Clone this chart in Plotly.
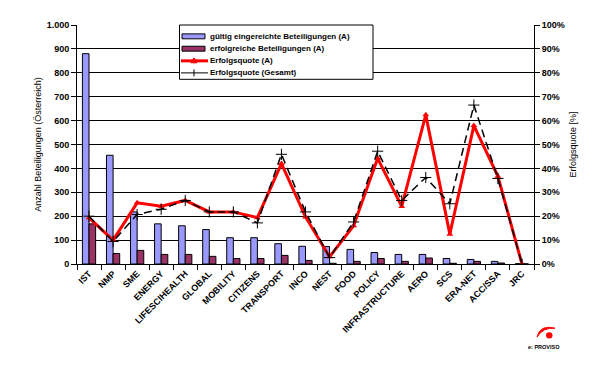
import plotly.graph_objects as go

categories = ["IST", "NMP", "SME", "ENERGY", "LIFESCIHEALTH", "GLOBAL", "MOBILITY",
              "CITIZENS", "TRANSPORT", "INCO", "NEST", "FOOD", "POLICY",
              "INFRASTRUCTURE", "AERO", "SCS", "ERA-NET", "ACC/SSA", "JRC"]
eingereicht = [880, 455, 218, 168, 160, 144, 110, 110, 85, 74, 73, 61, 48, 40, 40, 23, 19, 11, 1]
erfolgreich = [168, 44, 57, 40, 40, 32, 23, 23, 36, 15, 3, 11, 23, 11, 25, 3, 11, 4, 0]
quote_A = [0.193, 0.10, 0.256, 0.242, 0.266, 0.218, 0.218, 0.194, 0.42, 0.197,
           0.03, 0.16, 0.442, 0.241, 0.624, 0.125, 0.579, 0.367, 0.0]
quote_gesamt = [0.20, 0.094, 0.207, 0.229, 0.266, 0.218, 0.218, 0.172, 0.459, 0.218,
                0.027, 0.176, 0.472, 0.266, 0.362, 0.252, 0.665, 0.358, 0.0]

left_ticks = [0, 100, 200, 300, 400, 500, 600, 700, 800, 900, 1000]
left_ticktext = ["0", "100", "200", "300", "400", "500", "600", "700", "800", "900", "1.000"]

series_names = ["gültig eingereichte Beteiligungen (A)", "erfolgreiche Beteiligungen (A)",
                "Erfolgsquote (A)", "Erfolgsquote (Gesamt)"]

FONT = "Liberation Sans, Arial, sans-serif"
BLUE = "#9999FF"
PLUM = "#993366"
RED = "#FF0000"

fig = go.Figure()
fig.add_trace(go.Bar(x=categories, y=eingereicht, name=series_names[0], showlegend=False,
                     marker=dict(color=BLUE, line=dict(color="black", width=1))))
fig.add_trace(go.Bar(x=categories, y=erfolgreich, name=series_names[1], showlegend=False,
                     marker=dict(color=PLUM, line=dict(color="black", width=1))))
fig.add_trace(go.Scatter(x=categories, y=quote_A, name=series_names[2], yaxis="y2",
                         mode="lines+markers", showlegend=False,
                         line=dict(color=RED, width=3),
                         marker=dict(symbol="triangle-up", size=6, color=RED)))
fig.add_trace(go.Scatter(x=categories, y=quote_gesamt, name=series_names[3], yaxis="y2",
                         mode="lines+markers", showlegend=False,
                         line=dict(color="black", width=1.5, dash="8px,5px"),
                         marker=dict(symbol="cross-thin", size=8, color="black",
                                     line=dict(color="black", width=1))))

# plot area in pixels: x 69..526, y 14..256
def px(xp):
    return (xp - 69) / 457
def py(yp):
    return (256 - yp) / 242

shapes = []
annotations = []

# manual legend (compact, like the original)
shapes.append(dict(type="rect", xref="paper", yref="paper", layer="above",
                   x0=px(171.5), x1=px(365), y0=py(69), y1=py(14),
                   fillcolor="white", line=dict(color="black", width=1)))
rows_y = [25.5, 38, 50.3, 62.5]
sx0, sx1, smid = 174, 198, 186
for i, col in enumerate([BLUE, PLUM]):
    yy = rows_y[i]
    shapes.append(dict(type="rect", xref="paper", yref="paper", layer="above",
                       x0=px(sx0), x1=px(sx1 - 1), y0=py(yy + 2.5), y1=py(yy - 2.5),
                       fillcolor=col, line=dict(color="black", width=1)))
yy = rows_y[2]
shapes.append(dict(type="line", xref="paper", yref="paper", layer="above",
                   x0=px(sx0 - 1), x1=px(sx1 + 2), y0=py(yy), y1=py(yy),
                   line=dict(color=RED, width=3)))
shapes.append(dict(type="path", xref="paper", yref="paper", layer="above",
                   path=f"M {px(smid-3)} {py(yy+2)} L {px(smid+3)} {py(yy+2)} L {px(smid)} {py(yy-3)} Z",
                   fillcolor=RED, line=dict(color=RED, width=1)))
yy = rows_y[3]
shapes.append(dict(type="line", xref="paper", yref="paper", layer="above",
                   x0=px(sx0 - 1), x1=px(sx1 + 2), y0=py(yy), y1=py(yy),
                   line=dict(color="black", width=1)))
shapes.append(dict(type="line", xref="paper", yref="paper", layer="above",
                   x0=px(smid), x1=px(smid), y0=py(yy - 3.5), y1=py(yy + 3.5),
                   line=dict(color="black", width=1)))
for i, name in enumerate(series_names):
    annotations.append(dict(text=f"<b>{name}</b>", xref="paper", yref="paper",
                            x=px(200), y=py(rows_y[i]), xanchor="left", yanchor="middle",
                            showarrow=False, font=dict(family=FONT, size=8, color="black")))

# logo (decoration)
shapes.append(dict(type="circle", xref="paper", yref="paper",
                   x0=px(538), x1=px(544.5), y0=py(331.5), y1=py(325),
                   fillcolor=RED, line=dict(width=0)))
shapes.append(dict(type="path", xref="paper", yref="paper",
                   path=(f"M {px(529)} {py(330)} Q {px(532)} {py(317)} {px(547)} {py(321)} "
                         f"Q {px(535)} {py(320)} {px(529)} {py(330)} Z"),
                   fillcolor=RED, line=dict(color=RED, width=1)))
annotations.append(dict(text="<b>e: PROVISO</b>", xref="paper", yref="paper", x=px(535.5), y=py(340),
                        xanchor="center", yanchor="middle", showarrow=False,
                        font=dict(family=FONT, size=5.5, color="black")))

fig.update_layout(
    width=601, height=368,
    margin=dict(l=69, r=75, t=14, b=112),
    paper_bgcolor="white", plot_bgcolor="white",
    font=dict(family=FONT, size=9, color="black"),
    barmode="group", bargap=0.45, bargroupgap=0,
    showlegend=False,
    xaxis=dict(type="category", range=[-0.5, 18.5], tickangle=-45,
               showline=True, linecolor="black", linewidth=1,
               ticks="outside", tickson="boundaries", ticklen=5, tickcolor="black",
               tickfont=dict(size=9, weight="bold"), showgrid=False),
    yaxis=dict(range=[0, 1000], tickvals=left_ticks, ticktext=left_ticktext,
               showline=True, linecolor="black", linewidth=1,
               ticks="outside", ticklen=5, tickcolor="black",
               showgrid=True, gridcolor="black", gridwidth=1, zeroline=False,
               tickfont=dict(size=9, weight="bold"),
               title=dict(text="Anzahl Beteiligungen (Österreich)", font=dict(size=9), standoff=3)),
    yaxis2=dict(range=[0, 1], overlaying="y", side="right", dtick=0.1, tickformat=".0%",
                showline=True, linecolor="black", linewidth=1,
                ticks="outside", ticklen=5, tickcolor="black",
                showgrid=False, zeroline=False, tickfont=dict(size=9, weight="bold"),
                title=dict(text="Erfolgsquote [%]", font=dict(size=9), standoff=5)),
    shapes=shapes,
    annotations=annotations,
)

fig.write_html("out.html")
